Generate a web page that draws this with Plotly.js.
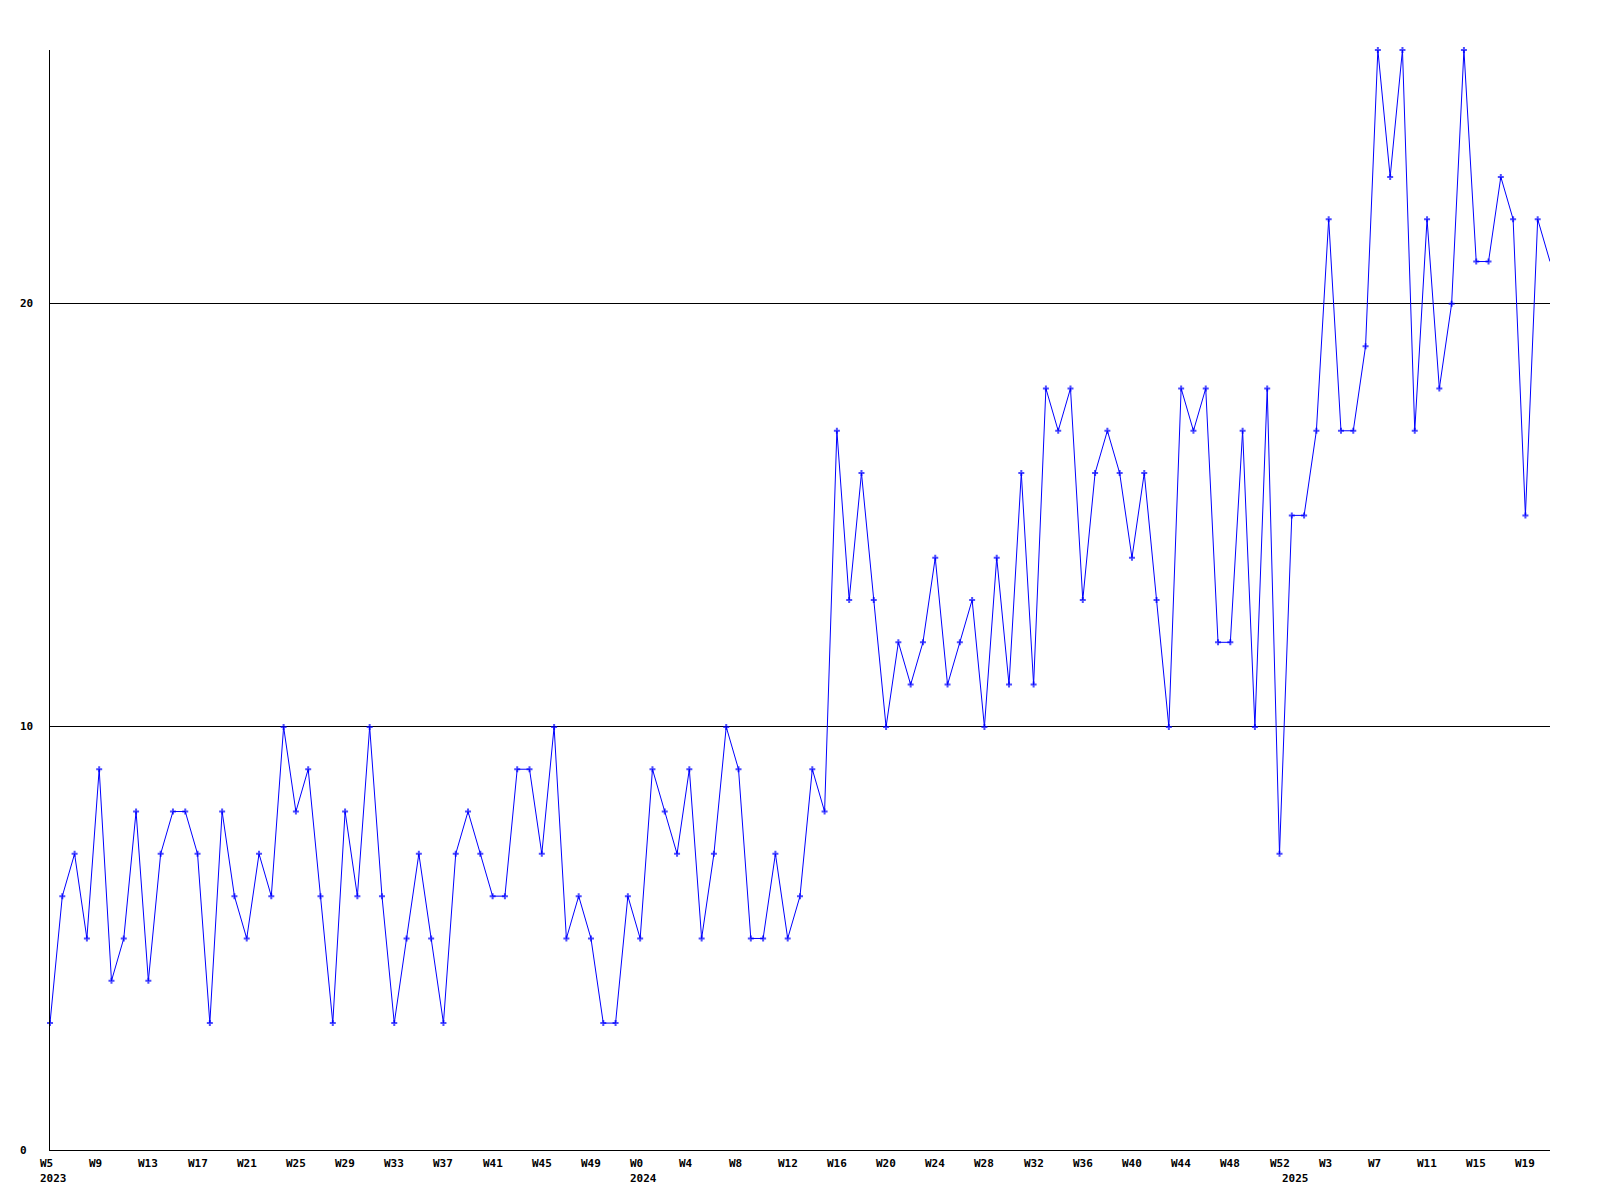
<!DOCTYPE html>
<html>
<head>
<meta charset="utf-8">
<script src="https://cdn.plot.ly/plotly-3.0.1.min.js"></script>
<style>
  html, body { margin: 0; padding: 0; background: #ffffff; }
  #chart { width: 1600px; height: 1200px; }
</style>
</head>
<body>
<div id="chart"></div>
<script>
// Weekly periods (categories)
const periods = [
  "2023-W5","2023-W6","2023-W7","2023-W8","2023-W9","2023-W10","2023-W11","2023-W12","2023-W13","2023-W14",
  "2023-W15","2023-W16","2023-W17","2023-W18","2023-W19","2023-W20","2023-W21","2023-W22","2023-W23","2023-W24",
  "2023-W25","2023-W26","2023-W27","2023-W28","2023-W29","2023-W30","2023-W31","2023-W32","2023-W33","2023-W34",
  "2023-W35","2023-W36","2023-W37","2023-W38","2023-W39","2023-W40","2023-W41","2023-W42","2023-W43","2023-W44",
  "2023-W45","2023-W46","2023-W47","2023-W48","2023-W49","2023-W50","2023-W51","2023-W52",
  "2024-W0","2024-W1","2024-W2","2024-W3","2024-W4","2024-W5","2024-W6","2024-W7","2024-W8","2024-W9",
  "2024-W10","2024-W11","2024-W12","2024-W13","2024-W14","2024-W15","2024-W16","2024-W17","2024-W18","2024-W19",
  "2024-W20","2024-W21","2024-W22","2024-W23","2024-W24","2024-W25","2024-W26","2024-W27","2024-W28","2024-W29",
  "2024-W30","2024-W31","2024-W32","2024-W33","2024-W34","2024-W35","2024-W36","2024-W37","2024-W38","2024-W39",
  "2024-W40","2024-W41","2024-W42","2024-W43","2024-W44","2024-W45","2024-W46","2024-W47","2024-W48","2024-W49",
  "2024-W50","2024-W51","2024-W52",
  "2025-W0","2025-W1","2025-W2","2025-W3","2025-W4","2025-W5","2025-W6","2025-W7","2025-W8","2025-W9",
  "2025-W10","2025-W11","2025-W12","2025-W13","2025-W14","2025-W15","2025-W16","2025-W17","2025-W18","2025-W19",
  "2025-W20","2025-W21"
];

// Weekly counts
const values = [
  3,6,7,5,9,4,5,8,4,7,
  8,8,7,3,8,6,5,7,6,10,
  8,9,6,3,8,6,10,6,3,5,
  7,5,3,7,8,7,6,6,9,9,
  7,10,5,6,5,3,3,6,
  5,9,8,7,9,5,7,10,9,5,
  5,7,5,6,9,8,17,13,16,13,
  10,12,11,12,14,11,12,13,10,14,
  11,16,11,18,17,18,13,16,17,16,
  14,16,13,10,18,17,18,12,12,17,
  10,18,7,
  15,15,17,22,17,17,19,26,23,26,
  17,22,18,20,26,21,21,23,22,15,
  22,21
];

// Tick labels (every fourth week) and their periods
const tickPeriods = [
  "2023-W5","2023-W9","2023-W13","2023-W17","2023-W21","2023-W25","2023-W29","2023-W33","2023-W37","2023-W41","2023-W45","2023-W49",
  "2024-W0","2024-W4","2024-W8","2024-W12","2024-W16","2024-W20","2024-W24","2024-W28","2024-W32","2024-W36","2024-W40","2024-W44","2024-W48","2024-W52",
  "2025-W3","2025-W7","2025-W11","2025-W15","2025-W19"
];
const tickLabels = [
  "W5","W9","W13","W17","W21","W25","W29","W33","W37","W41","W45","W49",
  "W0","W4","W8","W12","W16","W20","W24","W28","W32","W36","W40","W44","W48","W52",
  "W3","W7","W11","W15","W19"
];
const yearPeriods = ["2023-W5","2024-W0","2025-W0"];
const yearLabels = ["2023","2024","2025"];
const yTicks = [0, 10, 20];

const FONT = {family: "DejaVu Sans Mono, Liberation Mono, monospace", size: 11, color: "#000000", weight: "bold"};

const annotations = [];
tickPeriods.forEach((p, k) => {
  annotations.push({
    x: p, xref: "x", y: 0, yref: "paper",
    text: "<b>" + tickLabels[k] + "</b>", showarrow: false,
    xanchor: "left", yanchor: "middle", xshift: -11, yshift: -13,
    font: FONT, borderpad: 0
  });
});
yearPeriods.forEach((p, k) => {
  annotations.push({
    x: p, xref: "x", y: 0, yref: "paper",
    text: "<b>" + yearLabels[k] + "</b>", showarrow: false,
    xanchor: "left", yanchor: "middle", xshift: -11, yshift: -28,
    font: FONT, borderpad: 0
  });
});
yTicks.forEach(v => {
  annotations.push({
    x: 0, xref: "paper", y: v, yref: "y",
    text: "<b>" + v + "</b>", showarrow: false,
    xanchor: "left", yanchor: "middle", xshift: -31,
    font: FONT, borderpad: 0
  });
});

// the final (partial) week is drawn as a line end only, without a marker
const markerSizes = values.map((v, i) => (i === values.length - 1 ? 0 : 5));

const trace = {
  type: "scatter",
  mode: "lines+markers",
  x: periods,
  y: values,
  line: {color: "#0000ff", width: 1},
  marker: {symbol: "cross", size: markerSizes, color: "#0000ff", line: {width: 0}},
  cliponaxis: false,
  hoverinfo: "x+y"
};

const layout = {
  width: 1600,
  height: 1200,
  paper_bgcolor: "#ffffff",
  plot_bgcolor: "#ffffff",
  margin: {l: 50, r: 50, t: 50, b: 50, pad: 0},
  showlegend: false,
  xaxis: {
    type: "category",
    categoryorder: "array",
    categoryarray: periods,
    range: [0, periods.length - 1],
    showgrid: false,
    zeroline: false,
    showline: true,
    linecolor: "#000000",
    linewidth: 1,
    ticks: "",
    showticklabels: false,
    fixedrange: true
  },
  yaxis: {
    range: [0, 26],
    tickvals: yTicks,
    showgrid: true,
    gridcolor: "#000000",
    gridwidth: 1,
    zeroline: false,
    showline: true,
    linecolor: "#000000",
    linewidth: 1,
    ticks: "",
    showticklabels: false,
    fixedrange: true
  },
  annotations: annotations
};

Plotly.newPlot("chart", [trace], layout, {displayModeBar: false, staticPlot: true});
</script>
</body>
</html>
